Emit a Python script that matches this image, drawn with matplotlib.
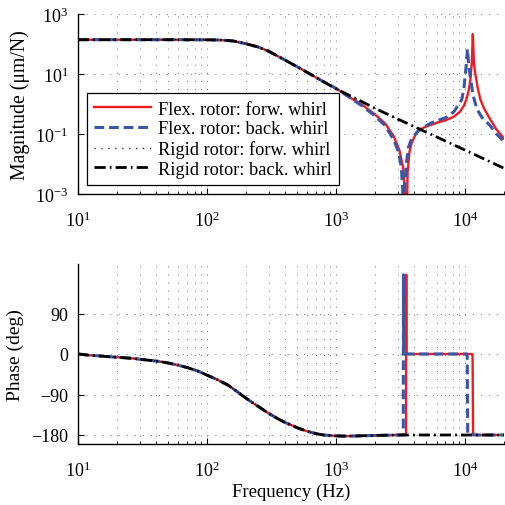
import numpy as np
import matplotlib
matplotlib.use('Agg')
import matplotlib.pyplot as plt
from matplotlib.ticker import LogLocator, NullLocator, NullFormatter, LogFormatterMathtext, FixedLocator

plt.rcParams['font.family'] = ['Liberation Serif', 'DejaVu Serif']
plt.rcParams['mathtext.fontset'] = 'custom'
plt.rcParams['mathtext.rm'] = 'Liberation Serif'
plt.rcParams['mathtext.it'] = 'Liberation Serif:italic'
plt.rcParams['lines.scale_dashes'] = False
plt.rcParams['font.size'] = 13

# ---------------- data ----------------
# Rigid rotor (forward and backward whirl coincide)
rigid_freq = [10, 20, 50, 100, 130, 160, 200, 250, 300, 400, 500, 600, 800, 1000,
              1500, 2000, 3000, 5000, 10000, 20000]
rigid_fwd_mag = [139, 139, 139, 138, 135, 126, 102, 79, 57.5, 29.5, 17.4, 11.2, 5.5, 3.2,
                 1.35, 0.72, 0.316, 0.115, 0.029, 0.0072]
rigid_bwd_mag = [139, 139, 139, 138, 135, 126, 102, 79, 57.5, 29.5, 17.4, 11.2, 5.5, 3.2,
                 1.35, 0.72, 0.316, 0.115, 0.029, 0.0072]

# Flexible rotor, forward whirl
flex_fwd_freq = [10, 20, 50, 100, 130, 160, 200, 250, 300, 400, 500, 600, 800, 1000,
                 1300, 1600, 2000, 2400, 2800, 3100, 3300, 3420, 3500, 3580, 3700, 3850,
                 4200, 4800, 5400, 6200, 7200, 8200, 9100, 9800, 10300, 10700, 11000,
                 11250, 11470, 11700, 12000, 12500, 13100, 14000, 15600, 17500, 20000]
flex_fwd_mag = [139, 139, 139, 138, 135, 126, 102, 79, 57.5, 29.5, 17.4, 11.2, 5.5, 3.3,
                1.58, 0.93, 0.45, 0.224, 0.083, 0.028, 0.0079, 0.001, 0.00001, 0.005, 0.025, 0.05,
                0.115, 0.166, 0.2, 0.245, 0.295, 0.38, 0.55, 0.89, 1.58, 3.16, 7.1,
                22.4, 214, 22.4, 10.0, 3.55, 1.45, 0.71, 0.316, 0.141, 0.071]

# Flexible rotor, backward whirl
flex_bwd_freq = [10, 20, 50, 100, 130, 160, 200, 250, 300, 400, 500, 600, 800, 1000,
                 1300, 1600, 2000, 2400, 2800, 3050, 3200, 3280, 3330, 3400, 3500, 3630,
                 3850, 4480, 5400, 6200, 7200, 8200, 9140, 9440, 9800, 10000, 10200, 10420,
                 10650, 10930, 11500, 12330, 13500, 15630, 17500, 20000]
flex_bwd_mag = [139, 139, 139, 138, 135, 126, 102, 79, 57.5, 29.5, 17.4, 11.2, 5.5, 3.3,
                1.55, 0.85, 0.40, 0.19, 0.063, 0.025, 0.0079, 0.0016, 0.00001, 0.0016, 0.01, 0.035,
                0.071, 0.148, 0.229, 0.288, 0.363, 0.56, 1.14, 1.47, 3.5, 8.7, 20, 68,
                20, 8.7, 2.0, 0.68, 0.355, 0.19, 0.10, 0.056]

# Phase
rigid_phase_freq = [10, 12, 15, 18, 22, 27, 32, 40, 48, 58, 70, 85, 100, 120, 145, 170, 200,
                    230, 260, 300, 350, 400, 450, 500, 600, 700, 800, 1000, 1200, 1500, 2000,
                    3000, 5000, 10000, 20000]
rigid_fwd_phase = [0, -2.5, -4.5, -6.3, -8, -10, -12.5, -15.5, -19, -24, -30, -38, -47, -57, -69,
                   -83, -98, -110, -120, -132, -143, -152, -158, -164, -172, -177, -180, -182,
                   -182.5, -182, -181, -180, -180, -180, -180]
rigid_bwd_phase = [0, -2.5, -4.5, -6.3, -8, -10, -12.5, -15.5, -19, -24, -30, -38, -47, -57, -69,
                   -83, -98, -110, -120, -132, -143, -152, -158, -164, -172, -177, -180, -182,
                   -182.5, -182, -181, -180, -180, -180, -180]

flex_fwd_phase_freq = [10, 12, 15, 18, 22, 27, 32, 40, 48, 58, 70, 85, 100, 120, 145, 170, 200,
                       230, 260, 300, 350, 400, 450, 500, 600, 700, 800, 1000, 1200, 1500, 2000,
                       3000, 3480, 3495, 3505, 3600, 5000, 10000, 11300,
                       11420, 11470, 11520, 12000, 20000]
flex_fwd_phase = [0, -2.5, -4.5, -6.3, -8, -10, -12.5, -15.5, -19, -24, -30, -38, -47, -57, -69,
                  -83, -98, -110, -120, -132, -143, -152, -158, -164, -172, -177, -180, -182,
                  -182.5, -182, -181, -180, -180, 176, 1, 0, 0, 0, 0,
                  -6, -90, -178, -180, -180]

flex_bwd_phase_freq = [10, 12, 15, 18, 22, 27, 32, 40, 48, 58, 70, 85, 100, 120, 145, 170, 200,
                       230, 260, 300, 350, 400, 450, 500, 600, 700, 800, 1000, 1200, 1500, 2000,
                       3000, 3315, 3328, 3338, 3420, 5000, 10000, 10300,
                       10380, 10420, 10470, 12000, 20000]
flex_bwd_phase = [0, -2.5, -4.5, -6.3, -8, -10, -12.5, -15.5, -19, -24, -30, -38, -47, -57, -69,
                  -83, -98, -110, -120, -132, -143, -152, -158, -164, -172, -177, -180, -182,
                  -182.5, -182, -181, -180, -180, 176, 1, 0, 0, 0, 0,
                  -6, -90, -178, -180, -180]

labels = ['Flex. rotor: forw. whirl', 'Flex. rotor: back. whirl',
          'Rigid rotor: forw. whirl', 'Rigid rotor: back. whirl']
mag_ticks = [1e-3, 1e-1, 1e1, 1e3]
phase_ticks = [-180, -90, 0, 90]

# ---------------- styles ----------------
red = '#ed1c24'
blue = '#3a56a5'
sty_ff = dict(color=red, lw=1.7, ls='-')
sty_fb = dict(color=blue, lw=2.2, dashes=(7, 3.5))
sty_rf = dict(color='black', lw=1.0, dashes=(0.8, 4.2))
sty_rb = dict(color='black', lw=2.0, dashes=(8, 3, 1.2, 3))

fig = plt.figure(figsize=(5.06, 5.06), dpi=100)
W = 506.0
ax1 = fig.add_axes([78 / W, (W - 195) / W, 426 / W, 180 / W])
ax2 = fig.add_axes([78 / W, (W - 445) / W, 426 / W, 180 / W])

h1, = ax1.plot(flex_fwd_freq, flex_fwd_mag, **sty_ff)
h2, = ax1.plot(flex_bwd_freq, flex_bwd_mag, **sty_fb)
h3, = ax1.plot(rigid_freq, rigid_fwd_mag, **sty_rf)
h4, = ax1.plot(rigid_freq, rigid_bwd_mag, **sty_rb)

ax2.plot(flex_fwd_phase_freq, flex_fwd_phase, **sty_ff)
ax2.plot(flex_bwd_phase_freq, flex_bwd_phase, **sty_fb)
ax2.plot(rigid_phase_freq, rigid_fwd_phase, **sty_rf)
ax2.plot(rigid_phase_freq, rigid_bwd_phase, **sty_rb)

for ax in (ax1, ax2):
    ax.set_xscale('log')
    ax.set_xlim(10, 2e4)
    ax.xaxis.set_major_locator(LogLocator(base=10, numticks=10))
    ax.xaxis.set_minor_locator(LogLocator(base=10, subs=np.arange(2, 10), numticks=20))
    ax.xaxis.set_major_formatter(LogFormatterMathtext())
    ax.xaxis.set_minor_formatter(NullFormatter())
    ax.spines['top'].set_visible(False)
    ax.spines['right'].set_visible(False)
    for s in ('left', 'bottom'):
        ax.spines[s].set_linewidth(1.0)
    ax.tick_params(which='major', direction='in', length=4, width=0.8, labelsize=13)
    ax.tick_params(axis='x', which='major', pad=12)
    ax.tick_params(axis='y', which='major', pad=7)
    ax.tick_params(which='minor', direction='in', length=2.5, width=0.6)
    ax.set_axisbelow(True)
    ax.grid(True, which='both', axis='x', color='0.25', lw=0.6, dashes=(0.6, 5.2))
    ax.grid(True, which='major', axis='y', color='0.25', lw=0.6, dashes=(0.6, 5.2))

ax1.set_yscale('log')
ax1.set_ylim(1e-3, 1e3)
ax1.yaxis.set_major_locator(FixedLocator(mag_ticks))
ax1.yaxis.set_minor_locator(NullLocator())
ax1.yaxis.set_major_formatter(LogFormatterMathtext())
ax1.set_ylabel('Magnitude (μm/N)', fontsize=14.2, labelpad=4)

ax2.set_ylim(-200, 200)
ax2.set_yticks(phase_ticks)
ax2.set_ylabel('Phase (deg)', fontsize=14, labelpad=5)
ax2.set_xlabel('Frequency (Hz)', fontsize=13.5, labelpad=2)

leg = ax1.legend([h1, h2, h3, h4], labels, loc='lower left', bbox_to_anchor=(0.02, 0.05),
                 borderaxespad=0, fancybox=False, edgecolor='black', framealpha=1,
                 handlelength=3.1, handletextpad=0.4, labelspacing=0.15, borderpad=0.4,
                 fontsize=13.2)
leg.get_frame().set_linewidth(0.9)

fig.savefig('out.png', dpi=100)
